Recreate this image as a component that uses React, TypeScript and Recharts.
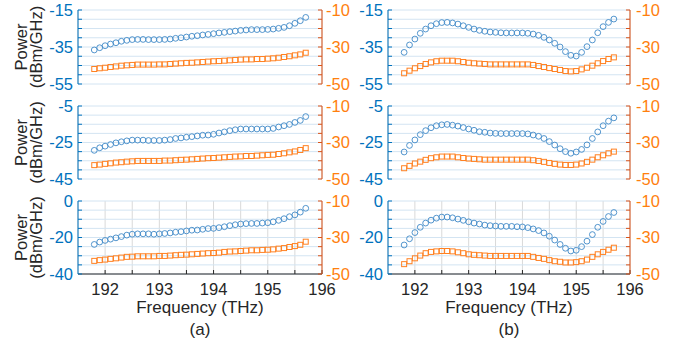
import React from 'react';
import { ScatterChart, Scatter, XAxis, YAxis, CartesianGrid } from 'recharts';

// frequency grid (THz), shared by every panel
const freqs = [
  191.8, 191.9, 192.0, 192.1, 192.2, 192.3, 192.4, 192.5, 192.6, 192.7,
  192.8, 192.9, 193.0, 193.1, 193.2, 193.3, 193.4, 193.5, 193.6, 193.7,
  193.8, 193.9, 194.0, 194.1, 194.2, 194.3, 194.4, 194.5, 194.6, 194.7,
  194.8, 194.9, 195.0, 195.1, 195.2, 195.3, 195.4, 195.5, 195.6, 195.7,
];

// column (a)
const a1Blue = [
  -36.6, -35.4, -34.3, -33.4, -32.7, -31.9, -31.4, -31.0, -30.9, -30.9,
  -31.0, -31.0, -31.0, -30.9, -30.7, -30.3, -30.0, -29.6, -29.2, -28.9,
  -28.5, -28.2, -27.8, -27.4, -27.1, -26.7, -26.4, -26.0, -25.8, -25.6,
  -25.6, -25.6, -25.5, -25.3, -24.9, -24.4, -23.5, -22.2, -20.8, -19.0,
];
const a1Orange = [
  -41.9, -41.5, -41.2, -40.8, -40.5, -40.1, -39.9, -39.7, -39.5, -39.5,
  -39.5, -39.5, -39.4, -39.4, -39.2, -39.0, -38.8, -38.6, -38.5, -38.3,
  -38.1, -37.9, -37.7, -37.6, -37.4, -37.2, -37.0, -36.8, -36.7, -36.7,
  -36.5, -36.5, -36.3, -36.1, -35.8, -35.4, -35.0, -34.5, -34.0, -33.1,
];
const a2Blue = [
  -29.3, -27.9, -27.0, -26.1, -25.2, -24.6, -24.1, -23.7, -23.7, -23.7,
  -23.9, -23.9, -23.9, -23.7, -23.4, -22.8, -22.5, -22.1, -21.8, -21.4,
  -21.0, -20.9, -20.5, -19.8, -19.2, -18.5, -18.0, -17.6, -17.6, -17.6,
  -17.6, -17.6, -17.6, -17.3, -16.5, -15.8, -15.1, -14.0, -12.9, -10.8,
];
const a2Orange = [
  -42.4, -42.1, -41.7, -41.4, -41.0, -40.8, -40.5, -40.3, -40.1, -40.1,
  -40.1, -40.1, -40.1, -39.9, -39.9, -39.7, -39.5, -39.4, -39.2, -39.0,
  -38.8, -38.6, -38.5, -38.3, -38.1, -37.9, -37.7, -37.6, -37.4, -37.4,
  -37.2, -37.0, -36.8, -36.7, -36.3, -35.9, -35.4, -34.9, -34.1, -33.1,
];
const a3Blue = [
  -23.8, -22.5, -21.6, -20.9, -20.2, -19.5, -18.7, -18.2, -18.0, -18.0,
  -18.0, -18.2, -18.0, -17.8, -17.5, -17.1, -16.8, -16.4, -16.0, -15.9,
  -15.5, -15.1, -15.0, -14.6, -14.1, -13.5, -13.0, -12.6, -12.4, -12.3,
  -12.3, -12.1, -11.9, -11.4, -10.6, -9.7, -8.6, -7.6, -6.1, -4.0,
];
const a3Orange = [
  -42.8, -42.4, -42.1, -41.7, -41.4, -41.0, -40.6, -40.5, -40.3, -40.3,
  -40.3, -40.3, -40.1, -40.1, -39.9, -39.7, -39.5, -39.4, -39.2, -39.0,
  -38.8, -38.6, -38.5, -38.3, -37.9, -37.7, -37.6, -37.4, -37.2, -37.0,
  -37.0, -36.8, -36.7, -36.5, -36.1, -35.8, -35.2, -34.7, -34.0, -32.3,
];

// column (b)
const b1Blue = [
  -37.9, -33.9, -30.7, -27.6, -25.3, -23.5, -22.4, -21.8, -21.7, -22.0,
  -22.6, -23.5, -24.4, -25.3, -26.0, -26.5, -26.9, -27.1, -27.3, -27.4,
  -27.4, -27.4, -27.4, -27.6, -28.0, -28.7, -29.8, -31.2, -33.0, -35.0,
  -37.5, -39.5, -39.9, -37.9, -34.8, -31.2, -27.3, -24.0, -21.7, -19.9,
];
const b1Orange = [
  -44.2, -42.8, -41.5, -40.3, -39.2, -38.3, -37.7, -37.4, -37.4, -37.4,
  -37.7, -38.1, -38.5, -38.8, -39.0, -39.2, -39.4, -39.4, -39.4, -39.4,
  -39.4, -39.4, -39.4, -39.4, -39.7, -40.3, -40.8, -41.4, -41.9, -42.4,
  -43.0, -43.2, -43.0, -42.1, -41.2, -40.1, -38.8, -37.6, -36.5, -35.6,
];
const b2Blue = [
  -30.2, -26.6, -23.6, -20.7, -18.5, -16.9, -15.8, -15.3, -15.1, -15.5,
  -16.0, -16.8, -17.6, -18.3, -19.1, -19.4, -19.8, -20.0, -20.1, -20.1,
  -20.1, -20.1, -20.1, -20.3, -20.9, -21.6, -22.8, -24.5, -26.4, -28.4,
  -30.0, -30.9, -30.2, -28.8, -26.3, -22.8, -19.2, -15.8, -13.3, -11.5,
];
const b2Orange = [
  -44.1, -42.8, -41.5, -40.5, -39.5, -38.6, -38.1, -37.7, -37.7, -37.7,
  -38.1, -38.5, -38.8, -39.0, -39.2, -39.4, -39.4, -39.4, -39.4, -39.4,
  -39.4, -39.4, -39.4, -39.4, -39.7, -40.1, -40.6, -41.2, -41.7, -42.1,
  -42.3, -42.3, -42.1, -41.5, -40.6, -39.4, -38.1, -37.0, -35.9, -35.0,
];
const b3Blue = [
  -24.1, -20.7, -17.3, -14.4, -12.1, -10.5, -9.4, -8.8, -8.8, -9.2,
  -9.9, -10.6, -11.4, -12.1, -12.6, -13.2, -13.5, -13.7, -13.9, -13.9,
  -13.9, -14.1, -14.2, -14.6, -15.3, -16.2, -17.5, -19.3, -21.4, -23.8,
  -25.9, -27.4, -27.0, -25.0, -22.0, -18.4, -14.4, -11.2, -8.5, -6.3,
];
const b3Orange = [
  -44.6, -43.0, -41.4, -39.9, -38.6, -37.9, -37.6, -37.4, -37.4, -37.6,
  -38.1, -38.6, -39.2, -39.5, -39.7, -39.9, -40.1, -40.1, -40.1, -40.1,
  -40.1, -40.1, -40.1, -40.1, -40.6, -41.2, -41.7, -42.4, -43.0, -43.3,
  -43.7, -43.7, -43.5, -43.0, -42.1, -40.6, -39.2, -37.9, -36.7, -35.6,
];

// axis ticks & labels
const xTicks = [192, 192.5, 193, 193.5, 194, 194.5, 195, 195.5, 196];
const xLabels = [192, 193, 194, 195, 196];
const row1LeftTicks = [-55, -50, -45, -40, -35, -30, -25, -20, -15];
const row1LeftLabels = [-55, -35, -15];
const row2LeftTicks = [-45, -40, -35, -30, -25, -20, -15, -10, -5];
const row2LeftLabels = [-45, -25, -5];
const row3LeftTicks = [-40, -35, -30, -25, -20, -15, -10, -5, 0];
const row3LeftLabels = [-40, -20, 0];
const rightTicks = [-50, -45, -40, -35, -30, -25, -20, -15, -10];
const rightLabels = [-50, -30, -10];

const INK = '#262626';
const BLUE_AXIS = '#0072BD';
const BLUE_MARK = '#3F89C7';
const ORANGE_AXIS = '#D95319';
const ORANGE_TEXT = '#FF7F0E';
const ORANGE_MARK = '#FF8021';
const GRID_H = '#D3E4F2';
const GRID_V = '#D9D9D9';
const FONT = '"Liberation Sans", Arial, sans-serif';

const circle = (p: any) => (
  <circle cx={p.cx} cy={p.cy} r={2.9} fill="none" stroke={BLUE_MARK} strokeWidth={0.9} />
);
const square = (p: any) => (
  <rect x={p.cx - 2.5} y={p.cy - 2.5} width={5} height={5} fill="none" stroke={ORANGE_MARK} strokeWidth={1} />
);

const PowerLabel = (props: any) => {
  const vb = props.viewBox || { y: 0, height: 0 };
  const cy = vb.y + vb.height / 2;
  return (
    <g fill={INK} fontSize={16.5}>
      <text transform={`translate(27,${cy}) rotate(-90)`} textAnchor="middle">Power</text>
      <text transform={`translate(42,${cy}) rotate(-90)`} textAnchor="middle">(dBm/GHz)</text>
    </g>
  );
};

const FreqLabel = (props: any) => {
  const vb = props.viewBox || { x: 0, y: 0, width: 0 };
  const cx = vb.x + vb.width / 2;
  return (
    <g fill={INK} fontSize={17} textAnchor="middle">
      <text x={cx} y={vb.y + 39}>Frequency (THz)</text>
      <text x={cx} y={vb.y + 61}>{props.tag}</text>
    </g>
  );
};

type PanelProps = {
  x: number;
  plotTop: number;
  plotH: number;
  leftW: number;
  plotW: number;
  rightW: number;
  leftMargin: number;
  rightMargin: number;
  blue: number[];
  orange: number[];
  leftTicks: number[];
  leftLabels: number[];
  power?: boolean;
  tag?: string;
};

const Panel = (p: PanelProps) => {
  const bottomH = p.tag ? 69 : 0;
  const width = p.leftW + p.plotW + p.rightW;
  const height = 10 + p.plotH + (p.tag ? bottomH : 10);
  const blueData = freqs.map((f, i) => ({ f, v: p.blue[i] }));
  const orangeData = freqs.map((f, i) => ({ f, v: p.orange[i] }));
  const lDomain = [p.leftTicks[0], p.leftTicks[p.leftTicks.length - 1]];

  return (
    <div style={{ position: 'absolute', left: p.x, top: p.plotTop - 10 }}>
      <ScatterChart width={width} height={height} margin={{ top: 10, right: 0, left: 0, bottom: p.tag ? 0 : 10 }}>
        <CartesianGrid xAxisId="b" yAxisId="L" horizontal={false} stroke={GRID_V} />
        <CartesianGrid xAxisId="b" yAxisId="L" vertical={false} stroke={GRID_H} />
        <XAxis
          xAxisId="b"
          type="number"
          dataKey="f"
          domain={[191.5, 196]}
          allowDataOverflow
          ticks={xTicks}
          interval={0}
          height={bottomH}
          tickSize={-4}
          tickMargin={13}
          axisLine={{ stroke: INK }}
          tickLine={{ stroke: INK }}
          tick={p.tag ? { fill: INK, fontSize: 16.5 } : false}
          tickFormatter={(v: number) => (xLabels.includes(v) ? String(v) : '')}
          label={p.tag ? <FreqLabel tag={p.tag} /> : undefined}
        />
        <XAxis
          xAxisId="t"
          orientation="top"
          type="number"
          domain={[191.5, 196]}
          allowDataOverflow
          ticks={xTicks}
          interval={0}
          height={0}
          tickSize={-4}
          axisLine={{ stroke: INK }}
          tickLine={{ stroke: INK }}
          tick={false}
        />
        <YAxis
          yAxisId="L"
          type="number"
          dataKey="v"
          domain={lDomain}
          allowDataOverflow
          ticks={p.leftTicks}
          interval={0}
          width={p.leftW}
          tickSize={-4}
          tickMargin={p.leftMargin}
          axisLine={{ stroke: BLUE_AXIS }}
          tickLine={{ stroke: BLUE_AXIS }}
          tick={{ fill: BLUE_AXIS, fontSize: 16.5 }}
          tickFormatter={(v: number) => (p.leftLabels.includes(v) ? String(v) : '')}
          label={p.power ? <PowerLabel /> : undefined}
        />
        <YAxis
          yAxisId="R"
          orientation="right"
          type="number"
          dataKey="v"
          domain={[-50, -10]}
          allowDataOverflow
          ticks={rightTicks}
          interval={0}
          width={p.rightW}
          tickSize={-4}
          tickMargin={p.rightMargin}
          axisLine={{ stroke: ORANGE_AXIS }}
          tickLine={{ stroke: ORANGE_AXIS }}
          tick={{ fill: ORANGE_TEXT, fontSize: 16.5 }}
          tickFormatter={(v: number) => (rightLabels.includes(v) ? String(v) : '')}
        />
        <Scatter xAxisId="b" yAxisId="L" data={blueData} dataKey="v" shape={circle} isAnimationActive={false} />
        <Scatter xAxisId="b" yAxisId="R" data={orangeData} dataKey="v" shape={square} isAnimationActive={false} />
      </ScatterChart>
    </div>
  );
};

const colA = { x: 0, leftW: 78, plotW: 244, rightW: 40, leftMargin: 9, rightMargin: 8 };
const colB = { x: 340, leftW: 48, plotW: 242, rightW: 51, leftMargin: 9, rightMargin: 10 };
const rowGeo = [
  { plotTop: 10, plotH: 74 },
  { plotTop: 106, plotH: 73 },
  { plotTop: 201, plotH: 73 },
];

export default function App() {
  return (
    <div
      style={{
        position: 'absolute',
        left: 0,
        top: 0,
        width: 681,
        height: 343,
        background: '#fff',
        fontFamily: FONT,
        overflow: 'hidden',
      }}
    >
      <Panel {...colA} {...rowGeo[0]} blue={a1Blue} orange={a1Orange} leftTicks={row1LeftTicks} leftLabels={row1LeftLabels} power />
      <Panel {...colA} {...rowGeo[1]} blue={a2Blue} orange={a2Orange} leftTicks={row2LeftTicks} leftLabels={row2LeftLabels} power />
      <Panel {...colA} {...rowGeo[2]} blue={a3Blue} orange={a3Orange} leftTicks={row3LeftTicks} leftLabels={row3LeftLabels} power tag="(a)" />
      <Panel {...colB} {...rowGeo[0]} blue={b1Blue} orange={b1Orange} leftTicks={row1LeftTicks} leftLabels={row1LeftLabels} />
      <Panel {...colB} {...rowGeo[1]} blue={b2Blue} orange={b2Orange} leftTicks={row2LeftTicks} leftLabels={row2LeftLabels} />
      <Panel {...colB} {...rowGeo[2]} blue={b3Blue} orange={b3Orange} leftTicks={row3LeftTicks} leftLabels={row3LeftLabels} tag="(b)" />
    </div>
  );
}
